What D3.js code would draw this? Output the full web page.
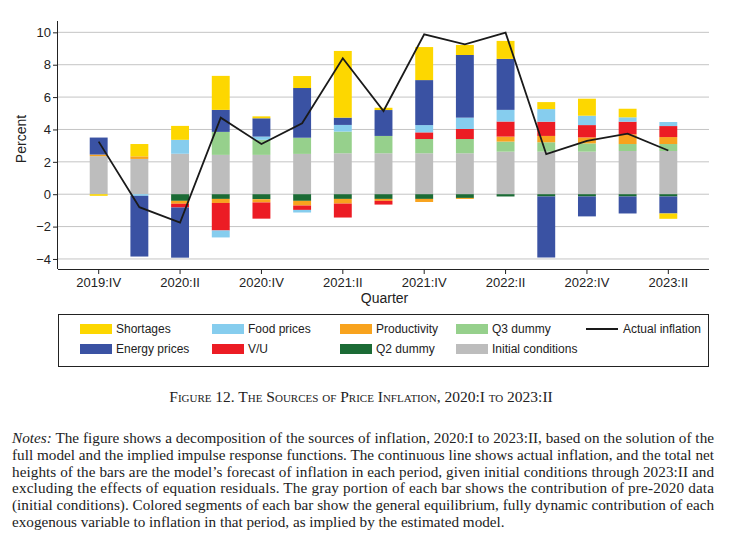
<!DOCTYPE html>
<html>
<head>
<meta charset="utf-8">
<script src="https://cdn.jsdelivr.net/npm/d3@7"></script>
<style>
  body { margin: 0; background: #fff; }
  svg { display: block; }
</style>
</head>
<body>
<script>
  const quarters = ['2019:IV', '2020:I', '2020:II', '2020:III', '2020:IV', '2021:I', '2021:II', '2021:III',
    '2021:IV', '2022:I', '2022:II', '2022:III', '2022:IV', '2023:I', '2023:II'];
  const tickQuarters = ['2019:IV', '2020:II', '2020:IV', '2021:II', '2021:IV', '2022:II', '2022:IV', '2023:II'];

  // contributions, one array per component (percentage points)
  const initialConditions = [2.35, 2.18, 2.5, 2.43, 2.43, 2.49, 2.53, 2.53, 2.53, 2.53, 2.63, 2.63, 2.63, 2.67, 2.67];
  const q2Dummy = [0, 0, -0.41, -0.29, -0.31, -0.41, -0.29, -0.29, -0.29, -0.23, -0.14, -0.14, -0.14, -0.14, -0.14];
  const q3Dummy = [0, 0, 0, 1.42, 0.93, 1.0, 1.34, 1.07, 0.88, 0.88, 0.62, 0.58, 0.51, 0.43, 0.43];
  const productivity = [0.1, 0.16, -0.18, -0.25, -0.2, -0.29, -0.29, -0.12, -0.19, -0.06, 0.31, 0.39, 0.37, 0.6, 0.43];
  const vu = [0, 0, -0.23, -1.7, -1.0, -0.27, -0.86, -0.23, 0.41, 0.62, 0.93, 0.88, 0.76, 0.78, 0.68];
  const foodPrices = [0, -0.1, 0.86, -0.43, 0.2, -0.16, 0.41, 0, 0.45, 0.7, 0.72, 0.78, 0.58, 0.27, 0.25];
  const energyPrices = [1.05, -3.75, -3.1, 1.36, 1.13, 3.07, 0.45, 1.6, 2.78, 3.87, 3.15, -3.77, -1.23, -1.05, -1.05];
  const shortages = [-0.1, 0.76, 0.86, 2.1, 0.12, 0.74, 4.12, 0.14, 2.04, 0.62, 1.11, 0.43, 1.05, 0.53, -0.33];
  const actualInflation = [3.25, -0.8, -1.75, 4.73, 3.1, 4.38, 8.4, 5.14, 9.88, 9.26, 9.98, 2.47, 3.29, 3.74, 2.7];

  const yTicks = [-4, -2, 0, 2, 4, 6, 8, 10];

  const series = [
    { key: 'initial', label: 'Initial conditions', color: '#bdbdbd', values: initialConditions },
    { key: 'q2', label: 'Q2 dummy', color: '#1b6b35', values: q2Dummy },
    { key: 'q3', label: 'Q3 dummy', color: '#96d08c', values: q3Dummy },
    { key: 'prod', label: 'Productivity', color: '#f8a31e', values: productivity },
    { key: 'vu', label: 'V/U', color: '#ec1c24', values: vu },
    { key: 'food', label: 'Food prices', color: '#86cdee', values: foodPrices },
    { key: 'energy', label: 'Energy prices', color: '#3a52a3', values: energyPrices },
    { key: 'short', label: 'Shortages', color: '#fdd700', values: shortages }
  ];

  const width = 743;
  const height = 560;
  const plotLeft = 58, plotRight = 709, plotTop = 21, plotBottom = 269;
  const sans = '"Liberation Sans", Arial, Helvetica, sans-serif';
  const serif = '"Liberation Serif", "Times New Roman", serif';

  const svg = d3.select('body').append('svg')
    .attr('width', width).attr('height', height);

  const x = d3.scaleBand().domain(quarters).range([plotLeft, plotRight])
    .paddingInner(0.56).paddingOuter(0.78);
  const y = d3.scaleLinear().domain([-4.62, 10.7]).range([plotBottom, plotTop]);

  // table for stack
  const table = quarters.map((q, i) => {
    const row = { q };
    series.forEach(s => { row[s.key] = s.values[i]; });
    return row;
  });
  const stacked = d3.stack().keys(series.map(s => s.key)).offset(d3.stackOffsetDiverging)(table);

  // grid
  svg.append('g').selectAll('line').data(yTicks).enter().append('line')
    .attr('x1', plotLeft).attr('x2', plotRight)
    .attr('y1', d => y(d)).attr('y2', d => y(d))
    .attr('stroke', '#c4c4c4').attr('stroke-width', 1);

  // bars
  svg.append('g').selectAll('g').data(stacked).enter().append('g')
    .attr('fill', (d, i) => series[i].color)
    .selectAll('rect').data(d => d).enter().append('rect')
    .attr('x', d => x(d.data.q))
    .attr('width', x.bandwidth())
    .attr('y', d => y(Math.max(d[0], d[1])))
    .attr('height', d => Math.abs(y(d[0]) - y(d[1])));

  // actual inflation line
  const line = d3.line().x((d, i) => x(quarters[i]) + x.bandwidth() / 2).y(d => y(d));
  svg.append('path').datum(actualInflation)
    .attr('d', line).attr('fill', 'none')
    .attr('stroke', '#1a1a1a').attr('stroke-width', 1.8).attr('stroke-linejoin', 'miter');

  // axes
  const yAxis = d3.axisLeft(y).tickValues(yTicks).tickSize(5).tickPadding(2)
    .tickFormat(d => d < 0 ? '\u2212' + Math.abs(d) : d);
  const gy = svg.append('g').attr('transform', `translate(${plotLeft},0)`).call(yAxis);
  gy.select('.domain').attr('d', `M-0.5,${plotTop}V${plotBottom}`).attr('stroke', '#222');
  gy.selectAll('.tick line').attr('stroke', '#222');
  gy.selectAll('text').attr('font-family', sans).attr('font-size', 13).attr('fill', '#222');

  const xAxis = d3.axisBottom(x).tickValues(tickQuarters).tickSize(5).tickPadding(4);
  const gx = svg.append('g').attr('transform', `translate(0,${plotBottom})`).call(xAxis);
  gx.select('.domain').attr('d', `M${plotLeft},0.5H${plotRight}`).attr('stroke', '#222');
  gx.selectAll('.tick line').attr('stroke', '#222');
  gx.selectAll('text').attr('font-family', sans).attr('font-size', 13).attr('fill', '#222');

  svg.append('text').attr('transform', `translate(26,${(plotTop + plotBottom) / 2 - 6}) rotate(-90)`)
    .attr('text-anchor', 'middle').attr('font-family', sans).attr('font-size', 14).attr('fill', '#222')
    .text('Percent');
  svg.append('text').attr('x', (plotLeft + plotRight) / 2 + 1).attr('y', 303)
    .attr('text-anchor', 'middle').attr('font-family', sans).attr('font-size', 14).attr('fill', '#222')
    .text('Quarter');

  // legend
  const legend = svg.append('g');
  legend.append('rect').attr('x', 58.5).attr('y', 314.5).attr('width', 650).attr('height', 52)
    .attr('fill', 'none').attr('stroke', '#222').attr('stroke-width', 1);
  const legendItems = [
    ['short', 0, 0], ['food', 1, 0], ['prod', 2, 0], ['q3', 3, 0],
    ['energy', 0, 1], ['vu', 1, 1], ['q2', 2, 1], ['initial', 3, 1]
  ];
  const colX = [80, 212, 340, 456];
  const rowY = [329, 349];
  legendItems.forEach(([key, c, r]) => {
    const s = series.find(d => d.key === key);
    legend.append('rect').attr('x', colX[c]).attr('y', rowY[r] - 5).attr('width', 32).attr('height', 10)
      .attr('fill', s.color);
    legend.append('text').attr('x', colX[c] + 36).attr('y', rowY[r]).attr('dy', '0.35em')
      .attr('font-family', sans).attr('font-size', 12).attr('fill', '#222').text(s.label);
  });
  legend.append('line').attr('x1', 586).attr('x2', 618).attr('y1', rowY[0]).attr('y2', rowY[0])
    .attr('stroke', '#1a1a1a').attr('stroke-width', 2);
  legend.append('text').attr('x', 623).attr('y', rowY[0]).attr('dy', '0.35em')
    .attr('font-family', sans).attr('font-size', 12).attr('fill', '#222').text('Actual inflation');

  // caption
  svg.append('text').attr('x', 361).attr('y', 402).attr('text-anchor', 'middle')
    .attr('font-family', serif).attr('font-size', 15.5).attr('font-variant', 'small-caps').attr('fill', '#222')
    .text('Figure 12. The Sources of Price Inflation, 2020:I to 2023:II');

  const notes = [
    'The figure shows a decomposition of the sources of inflation, 2020:I to 2023:II, based on the solution of the',
    'full model and the implied impulse response functions. The continuous line shows actual inflation, and the total net',
    'heights of the bars are the model\u2019s forecast of inflation in each period, given initial conditions through 2023:II and',
    'excluding the effects of equation residuals. The gray portion of each bar shows the contribution of pre-2020 data',
    '(initial conditions). Colored segments of each bar show the general equilibrium, fully dynamic contribution of each',
    'exogenous variable to inflation in that period, as implied by the estimated model.'
  ];
  notes.forEach((t, i) => {
    const tx = svg.append('text').attr('x', 12).attr('y', 443 + i * 16.8)
      .attr('font-family', serif).attr('font-size', 15.2).attr('fill', '#222');
    if (i < notes.length - 1) tx.attr('textLength', 702).attr('lengthAdjust', 'spacing');
    if (i === 0) {
      tx.append('tspan').attr('font-style', 'italic').text('Notes:');
      tx.append('tspan').text(' ' + t);
    } else {
      tx.text(t);
    }
  });
</script>
</body>
</html>
